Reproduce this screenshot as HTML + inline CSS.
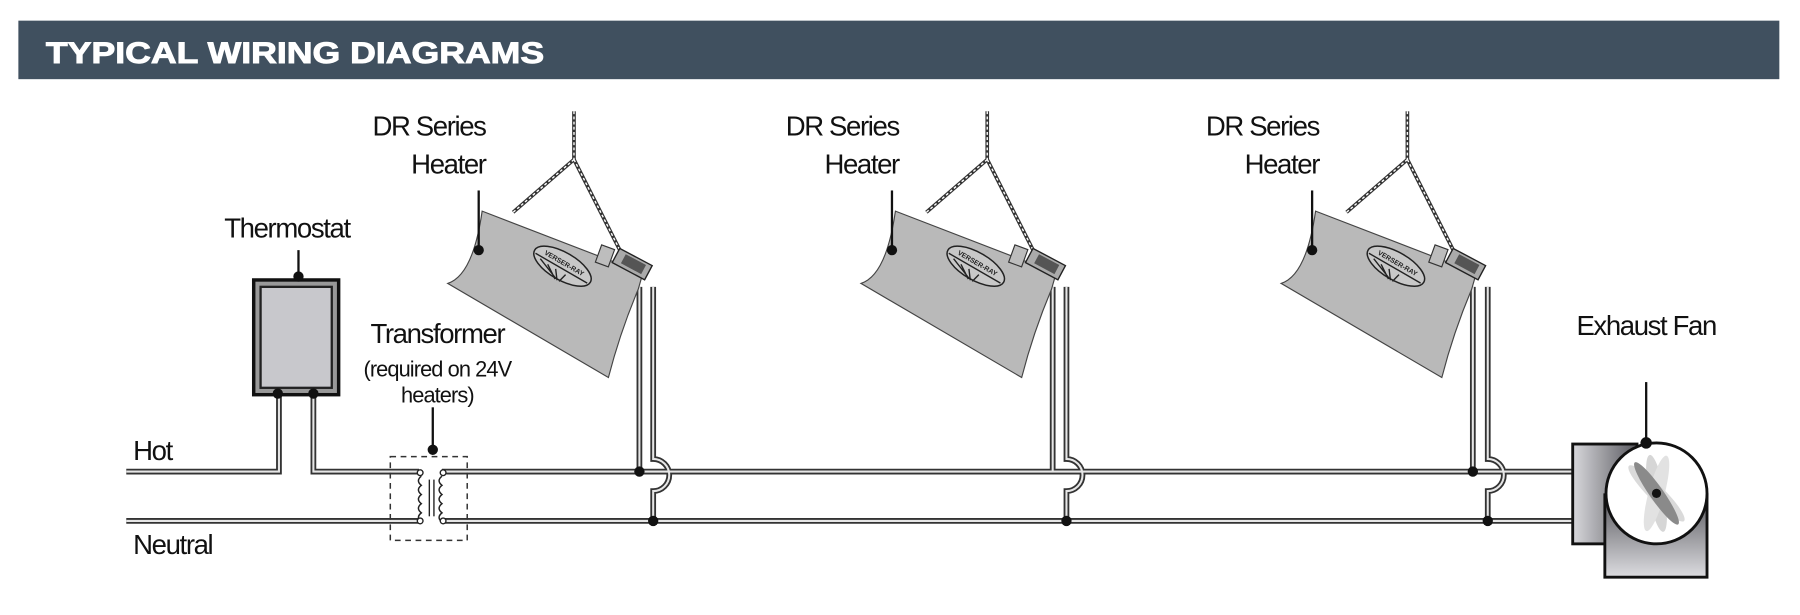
<!DOCTYPE html>
<html><head><meta charset="utf-8"><style>
html,body{margin:0;padding:0;background:#fff;width:1800px;height:615px;overflow:hidden}
svg{display:block}
.t{font-family:"Liberation Sans",sans-serif;font-size:24px;fill:#111;letter-spacing:-1.2px}
</style></head><body>
<svg width="1800" height="615" viewBox="0 0 1568 536" preserveAspectRatio="none" xmlns="http://www.w3.org/2000/svg">
<defs>
<linearGradient id="gb" x1="0" x2="1" y1="0" y2="0"><stop offset="0" stop-color="#d8d8dc"/><stop offset="1" stop-color="#5a5a60"/></linearGradient>
<linearGradient id="gf" x1="0" x2="0" y1="0" y2="1"><stop offset="0" stop-color="#55555a"/><stop offset="1" stop-color="#dcdce0"/></linearGradient>
<g id="heater">
  <!-- chain -->
  <g fill="none">
    <g stroke="#333" stroke-width="3.2">
      <line x1="500" y1="97" x2="500" y2="139"/>
      <line x1="500" y1="139" x2="447" y2="185"/>
      <line x1="500" y1="139" x2="544" y2="226"/>
    </g>
    <g stroke="#fff" stroke-width="1.2" stroke-dasharray="2.5 2">
      <line x1="500" y1="97" x2="500" y2="139"/>
      <line x1="500" y1="139" x2="447" y2="185"/>
      <line x1="500" y1="139" x2="544" y2="226"/>
    </g>
  </g>
  <!-- body -->
  <path d="M420,184 L560,238 L556,252 Q540,290 530,329 L390,247 Q412,240 420,184 Z" fill="#b9b9b9" stroke="#444" stroke-width="1"/>
  <!-- logo -->
  <g transform="rotate(30 490 232)">
    <ellipse cx="490" cy="232" rx="28" ry="12" fill="#c8c8c8" stroke="#222" stroke-width="1.3"/>
    <path d="M464,234 L516,234 M470,236 L490,244 M478,237 L490,245 M486,237 L492,245 M496,237 L494,245" stroke="#222" stroke-width="1.2"/>
    <text x="490" y="231" font-family="Liberation Sans" font-size="6" font-weight="bold" text-anchor="middle" fill="#222">VERSER-RAY</text>
  </g>
  <!-- control box -->
  <g transform="rotate(28 552 232)">
    <rect x="534" y="224" width="32" height="14" fill="#aaa" stroke="#222" stroke-width="1.2"/>
    <rect x="541" y="226" width="20" height="9" fill="#555"/>
  </g>
  <rect x="521" y="215" width="12" height="16" fill="#bdbdbd" stroke="#333" stroke-width="1" transform="rotate(20 527 223)"/>
  <!-- leader -->
  <line x1="417" y1="166" x2="417" y2="216" stroke="#111" stroke-width="2"/>
  <circle cx="417" cy="218" r="4.5" fill="#111"/>
  <text class="t" x="423" y="118" text-anchor="end">DR Series</text>
  <text class="t" x="423" y="151" text-anchor="end">Heater</text>
</g>
</defs>

<!-- header -->
<rect x="16" y="18" width="1534" height="51" fill="#40505f"/>
<text x="40" y="55" font-family="Liberation Sans" font-weight="bold" font-size="26" fill="#fff" textLength="434" lengthAdjust="spacingAndGlyphs" stroke="#fff" stroke-width="0.8">TYPICAL WIRING DIAGRAMS</text>

<!-- wires -->
<g fill="none">
<g stroke="#333" stroke-width="5">
  <path d="M110,411 H243 V343 M273,343 V411 H365"/>
  <path d="M385,411 H1372"/>
  <path d="M110,454 H365 M385,454 H1372"/>
  <path d="M557,250 V411 M569,250 V400 A14,14 0 0 1 569,428 V454"/>
  <path d="M917,250 V411 M929,250 V400 A14,14 0 0 1 929,428 V454"/>
  <path d="M1283,250 V411 M1296,250 V400 A14,14 0 0 1 1296,428 V454"/>
</g>
<g stroke="#e6e6e6" stroke-width="1.8">
  <path d="M110,411 H243 V343 M273,343 V411 H365"/>
  <path d="M385,411 H1372"/>
  <path d="M110,454 H365 M385,454 H1372"/>
  <path d="M557,250 V411 M569,250 V400 A14,14 0 0 1 569,428 V454"/>
  <path d="M917,250 V411 M929,250 V400 A14,14 0 0 1 929,428 V454"/>
  <path d="M1283,250 V411 M1296,250 V400 A14,14 0 0 1 1296,428 V454"/>
</g>
</g>

<use href="#heater"/>
<use href="#heater" transform="translate(360 0)"/>
<use href="#heater" transform="translate(726 0)"/>

<g fill="#111">
  <circle cx="557" cy="411" r="4.5"/><circle cx="569" cy="454" r="4.5"/>
  <circle cx="929" cy="454" r="4.5"/>
  <circle cx="1283" cy="411" r="4.5"/><circle cx="1296" cy="454" r="4.5"/>
</g>

<!-- thermostat -->
<rect x="221" y="244" width="74" height="100" fill="#999" stroke="#111" stroke-width="3"/>
<rect x="227" y="250" width="62" height="88" fill="#c8c8cc" stroke="#222" stroke-width="2"/>
<circle cx="242" cy="343" r="4.5" fill="#111"/><circle cx="273" cy="343" r="4.5" fill="#111"/>
<line x1="260" y1="218" x2="260" y2="238" stroke="#111" stroke-width="2"/>
<circle cx="260" cy="241" r="4.5" fill="#111"/>
<text class="t" x="250" y="207" text-anchor="middle">Thermostat</text>

<!-- transformer -->
<rect x="340" y="398" width="67" height="73" fill="none" stroke="#333" stroke-width="1.3" stroke-dasharray="5 4"/>
<path d="M367,415 q-5,4 0,8 q-5,4 0,8 q-5,4 0,8 q-5,4 0,8 q-5,4 0,8 M385,415 q-5,4 0,8 q-5,4 0,8 q-5,4 0,8 q-5,4 0,8 q-5,4 0,8" fill="none" stroke="#222" stroke-width="1.3"/>
<line x1="374" y1="418" x2="374" y2="450" stroke="#222" stroke-width="1.2"/>
<line x1="378" y1="418" x2="378" y2="450" stroke="#222" stroke-width="1.2"/>
<g fill="#fff" stroke="#222" stroke-width="1.2">
<circle cx="366" cy="412" r="2.5"/><circle cx="386" cy="412" r="2.5"/>
<circle cx="366" cy="454" r="2.5"/><circle cx="386" cy="454" r="2.5"/>
</g>
<line x1="377" y1="355" x2="377" y2="390" stroke="#111" stroke-width="2"/>
<circle cx="377" cy="392" r="4.5" fill="#111"/>
<text class="t" x="381" y="299" text-anchor="middle">Transformer</text>
<text class="t" x="381" y="328" text-anchor="middle" style="font-size:19px;letter-spacing:-0.8px">(required on 24V</text>
<text class="t" x="381" y="351" text-anchor="middle" style="font-size:19px;letter-spacing:-0.8px">heaters)</text>

<text class="t" x="116" y="401">Hot</text>
<text class="t" x="116" y="483">Neutral</text>

<!-- exhaust fan -->
<rect x="1370" y="387" width="56" height="87" fill="url(#gb)" stroke="#111" stroke-width="2.5"/>
<path d="M1398,430 V503 H1487 V430" fill="url(#gf)" stroke="#111" stroke-width="2.5"/>
<circle cx="1443" cy="430" r="44" fill="#fff" stroke="#111" stroke-width="2.5"/>
<g transform="translate(1443 430)">
  <ellipse rx="7" ry="34" fill="#d6d6d6" transform="rotate(-10)"/>
  <ellipse rx="7" ry="34" fill="#e2e2e2" transform="rotate(15)"/>
  <ellipse rx="7" ry="34" fill="#dadada" transform="rotate(-45)"/>
  <ellipse rx="6" ry="33" fill="#8a8a8a" transform="rotate(-35)"/>
  <circle r="4" fill="#111"/>
</g>
<line x1="1434" y1="333" x2="1434" y2="384" stroke="#111" stroke-width="2"/>
<circle cx="1434" cy="386" r="5" fill="#111"/>
<text class="t" x="1434" y="292" text-anchor="middle">Exhaust Fan</text>
</svg>
</body></html>
